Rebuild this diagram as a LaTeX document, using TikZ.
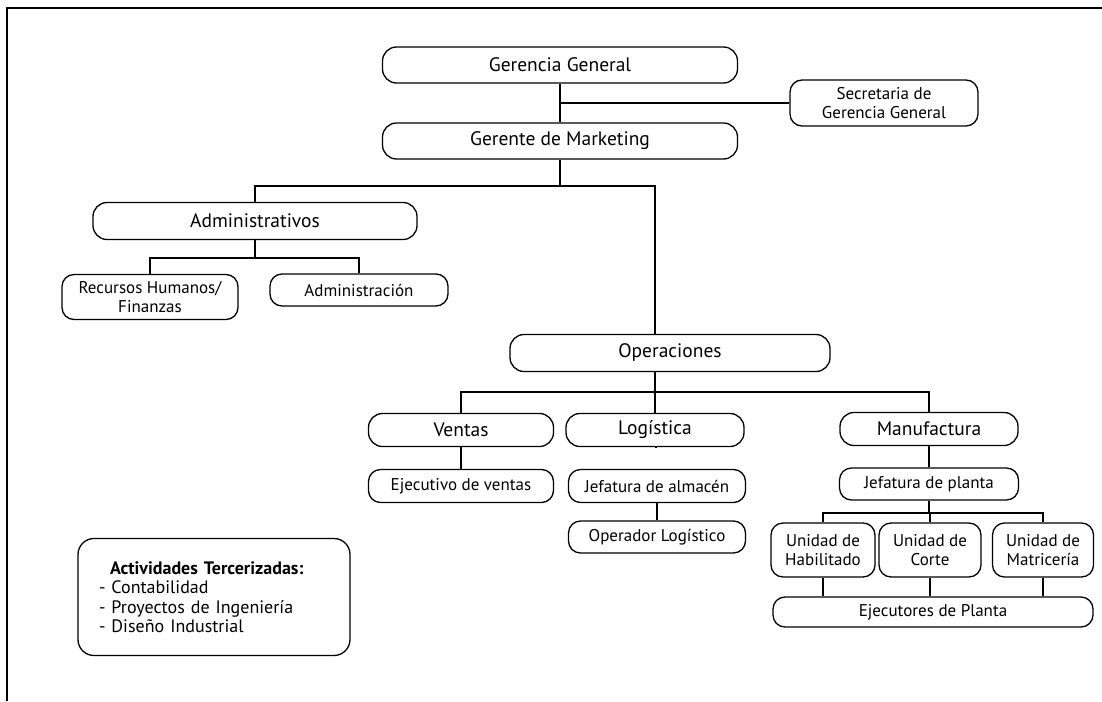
\documentclass[tikz,border=0pt]{standalone}
\usepackage{fontspec}
\setmainfont{PT Sans}
\begin{document}
\tikzset{
  cargo/.style={draw, line width=1.3pt, rounded corners=14pt, align=center,
    inner sep=2pt, font=\fontsize{19.5pt}{22pt}\selectfont},
  subcargo/.style={cargo, rounded corners=12pt, font=\fontsize{17pt}{19.5pt}\selectfont},
  enlace/.style={line width=1.4pt}
}
\begin{tikzpicture}[x=1pt, y=-1pt]
    \useasboundingbox (0,0) rectangle (1102,701);
    % marco
    \draw[line width=2pt] (7,701) -- (7,8) -- (1102,8);

    % direccion
    \node[cargo, minimum width=355pt, minimum height=36pt] (gg) at (560,65) {Gerencia General};
    \node[subcargo, minimum width=188pt, minimum height=46pt] (sec) at (884,103) {Secretaria de\\Gerencia General};
    \node[cargo, minimum width=355pt, minimum height=36pt] (gm) at (560,141) {Gerente de Marketing};

    % area administrativa
    \node[cargo, minimum width=324pt, minimum height=37pt] (adm) at (255,221) {Administrativos};
    \node[subcargo, minimum width=176pt, minimum height=45pt] (rrhh) at (150,297) {Recursos Humanos/\\Finanzas};
    \node[subcargo, minimum width=178pt, minimum height=32pt] (admin) at (359,290) {Administración};

    % operaciones
    \node[cargo, minimum width=320pt, minimum height=37pt] (ope) at (670,353) {Operaciones};
    \node[cargo, minimum width=185pt, minimum height=33pt] (ven) at (461,430) {Ventas};
    \node[cargo, minimum width=178pt, minimum height=33pt] (log) at (655,430) {Logística};
    \node[cargo, minimum width=178pt, minimum height=33pt] (man) at (929,429) {Manufactura};
    \node[subcargo, minimum width=185pt, minimum height=33pt] (ejv) at (461,486) {Ejecutivo de ventas};
    \node[subcargo, minimum width=177pt, minimum height=33pt] (jal) at (657,486) {Jefatura de almacén};
    \node[subcargo, minimum width=177pt, minimum height=32pt] (opl) at (657,537) {Operador Logístico};
    \node[subcargo, minimum width=179pt, minimum height=32pt] (jpl) at (929,484) {Jefatura de planta};

    % unidades de planta
    \node[subcargo, minimum width=104pt, minimum height=54pt] (uh) at (823,550) {Unidad de\\Habilitado};
    \node[subcargo, minimum width=102pt, minimum height=54pt] (uc) at (930,550) {Unidad de\\Corte};
    \node[subcargo, minimum width=101pt, minimum height=54pt] (um) at (1043,550) {Unidad de\\Matricería};
    \node[subcargo, minimum width=320pt, minimum height=30pt] (eje) at (933,612) {Ejecutores de Planta};

    % nota
    \node[subcargo, rounded corners=16pt, align=left, text width=230pt, inner xsep=21pt,
        minimum height=117pt, font=\fontsize{18pt}{19.5pt}\selectfont] (act) at (214,597)
        {\hspace{11pt}\textbf{Actividades Tercerizadas:}\\- Contabilidad\\- Proyectos de Ingeniería\\- Diseño Industrial};

    % lineas
    \coordinate (bus1) at (0,186);
    \coordinate (bus2) at (0,258);
    \coordinate (bus3) at (0,392);
    \coordinate (bus4) at (0,513);
    \draw[enlace] (gg.south) -- (gm.north);
    \draw[enlace] (sec.west) -- (sec.west -| gg.south);
    \draw[enlace] (gm.south) -- (gm.south |- bus1);
    \draw[enlace] (adm.north) |- (log.north |- bus1) -- (log.north |- ope.north);
    \draw[enlace] (adm.south) -- (adm.south |- bus2);
    \draw[enlace] (rrhh.north) |- (admin.north |- bus2) -- (admin.north);
    \draw[enlace] (log.north |- ope.south) -- (log.north);
    \draw[enlace] (ven.north) |- (man.north |- bus3) -- (man.north);
    \draw[enlace] (ven) -- (ejv);
    \draw[enlace] (log.south) -- (jal.north |- log.south);
    \draw[enlace] (jal) -- (opl);
    \draw[enlace] (man) -- (jpl);
    \draw[enlace] (jpl.south) -- (jpl.south |- bus4);
    \draw[enlace] (uh.north) |- (um.north |- bus4) -- (um.north);
    \draw[enlace] (uc.north) -- (uc.north |- bus4);
    \draw[enlace] (uh.south) -- (uh.south |- eje.north);
    \draw[enlace] (uc.south) -- (uc.south |- eje.north);
    \draw[enlace] (um.south) -- (um.south |- eje.north);
\end{tikzpicture}
\end{document}
